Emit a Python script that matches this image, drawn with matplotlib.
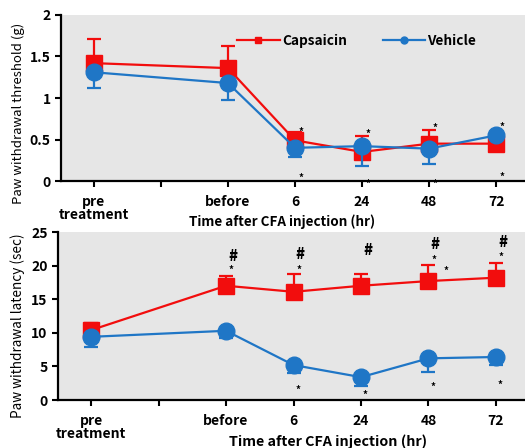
import matplotlib
matplotlib.use('Agg')
import matplotlib.pyplot as plt
from matplotlib.lines import Line2D

plt.rcParams['font.family'] = ['Noto Sans CJK JP', 'DejaVu Sans']
plt.rcParams['font.weight'] = 'bold'

# x positions (1 is an empty slot between pre and before)
x_pos = [0, 2, 3, 4, 5, 6]
tick_pos = [0, 1, 2, 3, 4, 5, 6]
tick_labels = ['pre\ntreatment', '', 'before', '6', '24', '48', '72']

# mechanical threshold (g)
thr_caps = [1.42, 1.36, 0.49, 0.35, 0.45, 0.45]
thr_caps_err = [0.29, 0.27, 0.10, 0.19, 0.16, 0.0]
thr_veh = [1.31, 1.18, 0.40, 0.42, 0.39, 0.55]
thr_veh_err = [0.19, 0.20, 0.11, 0.24, 0.19, 0.0]
thr_star_hi = [0.59, 0.57, 0.64, 0.65]
thr_star_lo = [0.04, -0.03, -0.03, 0.05]

# thermal latency (sec)
lat_caps = [10.4, 17.0, 16.1, 17.0, 17.7, 18.2]
lat_caps_err = [1.1, 1.5, 2.6, 1.7, 2.4, 2.2]
lat_veh = [9.4, 10.3, 5.2, 3.4, 6.2, 6.4]
lat_veh_err = [1.5, 1.1, 1.2, 1.3, 2.0, 1.2]
hash_x = [2, 3, 4, 5, 6]
hash_y = [21.4, 21.6, 22.2, 23.2, 23.5]
star_hi_x = [2, 3, 5, 5.18, 6]
star_hi_y = [19.3, 19.3, 20.8, 19.2, 21.3]
star_lo_x = [3, 4, 5, 6]
star_lo_y = [1.5, 0.75, 1.9, 2.2]

red = '#f20d0d'
blue = '#1f76c6'
bg = '#e6e6e6'

fig = plt.figure(figsize=(5.25, 4.48), dpi=100)
ax1 = fig.add_axes([61/525, 1-181/448, 464/525, 166/448])
ax2 = fig.add_axes([58/525, 1-400/448, 467/525, 168/448])


def style(ax, ylim, yticks, yticklabels):
    ax.set_facecolor(bg)
    ax.set_xlim(-0.49, 6.43)
    ax.set_ylim(*ylim)
    ax.set_yticks(yticks)
    ax.set_yticklabels(yticklabels)
    ax.set_xticks(tick_pos)
    ax.set_xticklabels(tick_labels, linespacing=0.95)
    for s in ['top', 'right']:
        ax.spines[s].set_visible(False)
    for s in ['left', 'bottom']:
        ax.spines[s].set_linewidth(1.6)
    ax.tick_params(length=4, width=1.5, labelsize=10, colors='black')
    ax.tick_params(axis='x', pad=6)


def draw(ax, caps, caps_err, veh, veh_err):
    ax.errorbar(x_pos, caps, yerr=[[0]*len(caps), caps_err], color=red,
                marker='s', markersize=11, lw=1.6, capsize=5, capthick=1.6,
                elinewidth=1.6, zorder=3)
    ax.errorbar(x_pos, veh, yerr=[veh_err, [0]*len(veh)], color=blue,
                marker='o', markersize=12, lw=1.6, capsize=5, capthick=1.6,
                elinewidth=1.6, zorder=4)


# top panel
style(ax1, (0, 2), [0, 0.5, 1, 1.5, 2], ['0', '0.5', '1', '1.5', '2'])
draw(ax1, thr_caps, thr_caps_err, thr_veh, thr_veh_err)
for xi, yi in zip(x_pos[2:], thr_star_hi):
    ax1.text(xi + 0.09, yi, '*', fontsize=7, ha='center', va='center', zorder=5)
for xi, yi in zip(x_pos[2:], thr_star_lo):
    ax1.text(xi + 0.09, yi, '*', fontsize=7, ha='center', va='center',
             clip_on=False, zorder=1)
ax1.set_ylabel('Paw withdrawal threshold (g)', fontsize=9.5)
ax1.yaxis.set_label_coords(-0.095 + 0.017, 0.41)
ax1.text(0.476, -0.245, 'Time after CFA injection (hr)', transform=ax1.transAxes,
         ha='center', va='center', fontsize=9.7)

handles = [Line2D([], [], color=red, marker='s', markersize=5, lw=1.6),
           Line2D([], [], color=blue, marker='o', markersize=5, lw=1.6)]
ax1.legend(handles, ['Capsaicin', 'Vehicle'], ncol=2, frameon=False,
           loc='center left', bbox_to_anchor=(0.38, 0.845), fontsize=9.8,
           handlelength=3.1, handletextpad=0.2, columnspacing=2.6,
           borderpad=0, borderaxespad=0)

# bottom panel
style(ax2, (0, 25), [0, 5, 10, 15, 20, 25], ['0', '5', '10', '15', '20', '25'])
draw(ax2, lat_caps, lat_caps_err, lat_veh, lat_veh_err)
for xi, yi in zip(hash_x, hash_y):
    ax2.text(xi + 0.1, yi, '#', fontsize=10.5, fontweight='heavy', ha='center',
             va='center')
for xi, yi in zip(star_hi_x, star_hi_y):
    ax2.text(xi + 0.08, yi, '*', fontsize=7, ha='center', va='center')
for xi, yi in zip(star_lo_x, star_lo_y):
    ax2.text(xi + 0.06, yi, '*', fontsize=7, ha='center', va='center')
ax2.set_ylabel('Paw withdrawal latency (sec)', fontsize=9.8)
ax2.yaxis.set_label_coords(-0.088 + 0.017, 0.44)
ax2.text(0.578, -0.25, 'Time after CFA injection (hr)', transform=ax2.transAxes,
         ha='center', va='center', fontsize=10.3)

fig.savefig('out.png', dpi=100)
